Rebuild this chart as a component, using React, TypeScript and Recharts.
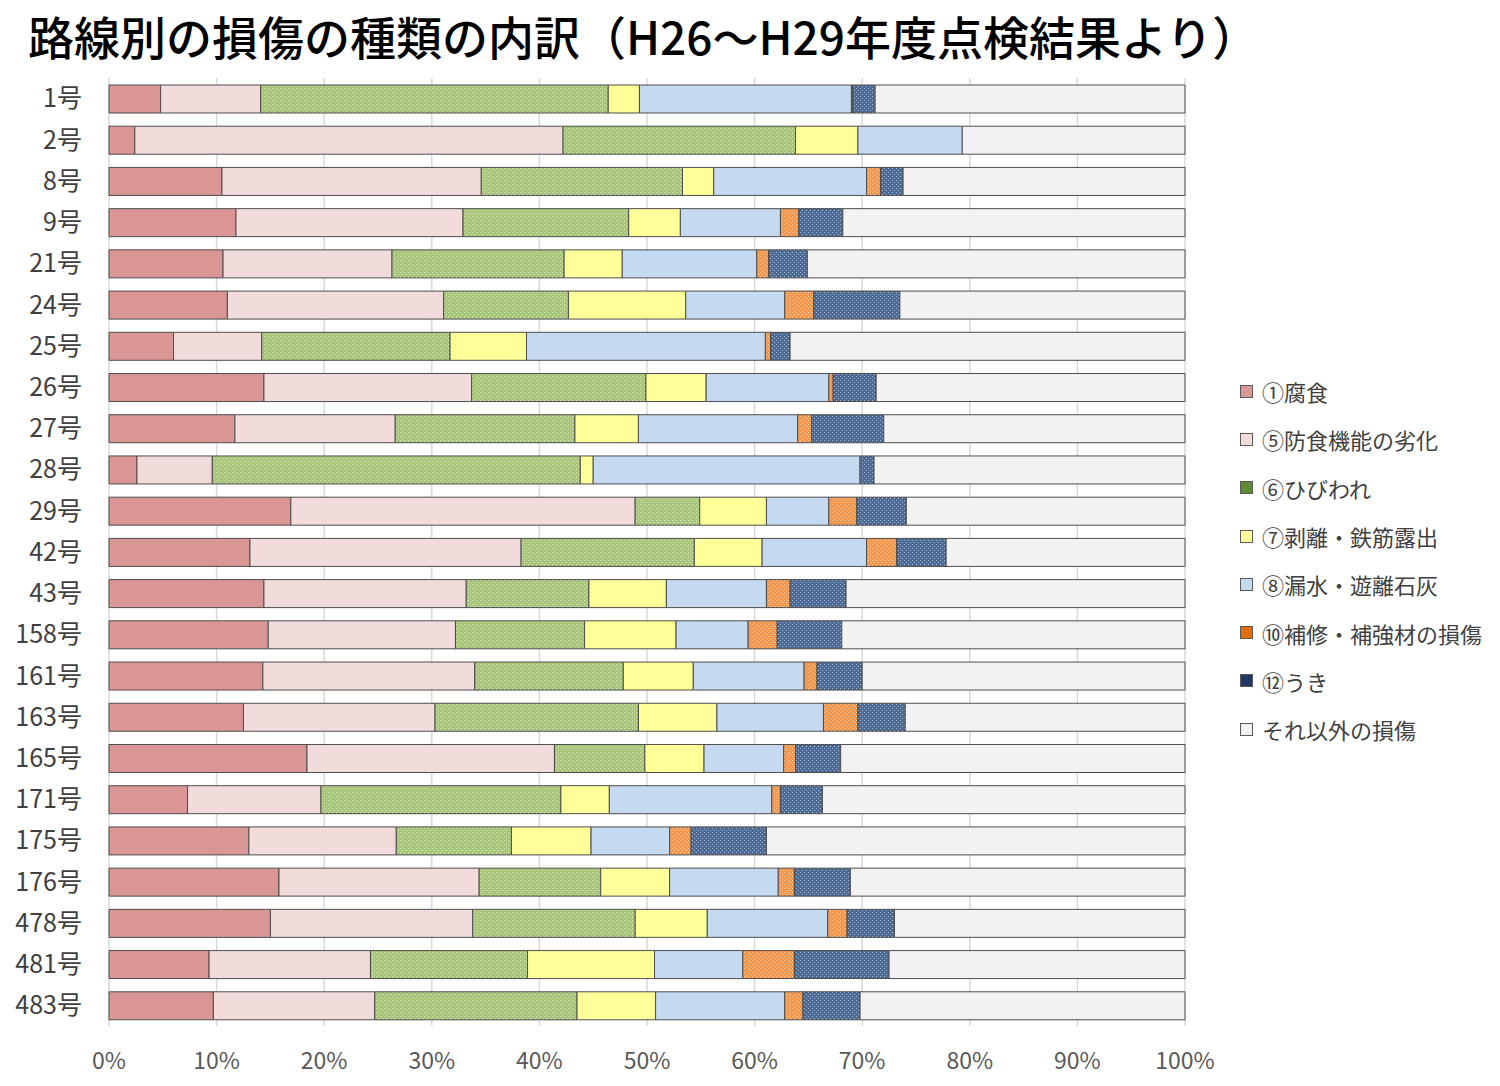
import React from 'react';
import { BarChart, Bar, XAxis, YAxis, CartesianGrid } from 'recharts';

const routes = ['1号', '2号', '8号', '9号', '21号', '24号', '25号', '26号', '27号', '28号', '29号', '42号', '43号', '158号', '161号', '163号', '165号', '171号', '175号', '176号', '478号', '481号', '483号'];

// percentages
const corrosion = [4.8, 2.4, 10.5, 11.8, 10.6, 11.0, 6.0, 14.4, 11.7, 2.6, 16.9, 13.1, 14.4, 14.8, 14.3, 12.5, 18.4, 7.3, 13.0, 15.8, 15.0, 9.3, 9.7];
const deterioration = [9.3, 39.8, 24.1, 21.1, 15.7, 20.1, 8.2, 19.3, 14.9, 7.0, 32.0, 25.2, 18.8, 17.4, 19.7, 17.8, 23.0, 12.4, 13.7, 18.6, 18.8, 15.0, 15.0];
const cracks = [32.3, 21.6, 18.7, 15.4, 16.0, 11.6, 17.5, 16.2, 16.7, 34.2, 6.0, 16.1, 11.4, 12.0, 13.8, 18.9, 8.4, 22.3, 10.7, 11.3, 15.1, 14.6, 18.8];
const peeling = [2.9, 5.8, 2.9, 4.8, 5.4, 10.9, 7.1, 5.6, 5.9, 1.2, 6.2, 6.3, 7.2, 8.5, 6.5, 7.3, 5.5, 4.5, 7.4, 6.4, 6.7, 11.8, 7.3];
const leakage = [19.7, 9.7, 14.2, 9.3, 12.5, 9.2, 22.2, 11.4, 14.8, 24.8, 5.8, 9.7, 9.3, 6.7, 10.3, 9.9, 7.4, 15.1, 7.3, 10.1, 11.2, 8.2, 12.0];
const repair = [0.1, 0, 1.3, 1.7, 1.1, 2.7, 0.5, 0.4, 1.3, 0, 2.6, 2.8, 2.2, 2.7, 1.2, 3.2, 1.1, 0.8, 2.0, 1.5, 1.8, 4.8, 1.7];
const uki = [2.1, 0, 2.1, 4.1, 3.6, 8.0, 1.8, 4.0, 6.7, 1.3, 4.6, 4.6, 5.2, 6.0, 4.2, 4.4, 4.2, 3.9, 7.0, 5.2, 4.4, 8.8, 5.3];
const others = [28.8, 20.7, 26.2, 31.8, 35.1, 26.5, 36.7, 28.7, 28.0, 28.9, 25.9, 22.2, 31.5, 31.9, 30.0, 26.0, 32.0, 33.7, 38.9, 31.1, 27.0, 27.5, 30.2];

const xTicks = [0, 0.1, 0.2, 0.3, 0.4, 0.5, 0.6, 0.7, 0.8, 0.9, 1];

const series = [
  { key: 'corrosion', name: '①腐食', fill: '#D99694', swatch: '#D99694' },
  { key: 'deterioration', name: '⑤防食機能の劣化', fill: '#F2DCDB', swatch: '#F2DCDB' },
  { key: 'cracks', name: '⑥ひびわれ', fill: 'url(#patGreen)', swatch: '#5E8A32' },
  { key: 'peeling', name: '⑦剥離・鉄筋露出', fill: '#FFFF99', swatch: '#FFFF99' },
  { key: 'leakage', name: '⑧漏水・遊離石灰', fill: '#C5D9F1', swatch: '#C5D9F1' },
  { key: 'repair', name: '⑩補修・補強材の損傷', fill: 'url(#patOrange)', swatch: '#E46C0A' },
  { key: 'uki', name: '⑫うき', fill: 'url(#patBlue)', swatch: '#1F3864' },
  { key: 'others', name: 'それ以外の損傷', fill: '#F2F2F2', swatch: '#F2F2F2' },
];

const data = routes.map((route, i) => ({
  route,
  corrosion: corrosion[i],
  deterioration: deterioration[i],
  cracks: cracks[i],
  peeling: peeling[i],
  leakage: leakage[i],
  repair: repair[i],
  uki: uki[i],
  others: others[i],
}));

const FONT = '"Noto Sans CJK JP", "Noto Sans", sans-serif';

const dotPattern = (id: string, base: string, dot: string) => (
  <pattern id={id} width="4" height="4" patternUnits="userSpaceOnUse">
    <rect width="4" height="4" fill={base} />
    <rect x="0" y="0" width="1" height="1" fill={dot} />
    <rect x="2" y="2" width="1" height="1" fill={dot} />
  </pattern>
);

export default function App() {
  return (
    <div style={{ position: 'relative', width: 1500, height: 1086, background: '#fff', fontFamily: FONT }}>
      <style>{`body{margin:0}`}</style>
      <div
        style={{
          position: 'absolute',
          left: 28,
          top: 2,
          fontSize: 46,
          fontWeight: 500,
          color: '#000',
          whiteSpace: 'nowrap',
        }}
      >
        路線別の損傷の種類の内訳（H26～H29年度点検結果より）
      </div>

      <div style={{ position: 'absolute', left: 0, top: 0 }}>
        <BarChart
          width={1230}
          height={1086}
          data={data}
          layout="vertical"
          stackOffset="expand"
          margin={{ top: 78, right: 45, bottom: 0, left: 0 }}
        >
          <defs>
            {dotPattern('patGreen', '#A6C673', '#E0EDCC')}
            {dotPattern('patOrange', '#F79646', '#FCD3AE')}
            {dotPattern('patBlue', '#4B6A95', '#A9BBD4')}
          </defs>
          <CartesianGrid horizontal={false} stroke="#D9D9D9" strokeWidth={1.5} />
          <XAxis
            type="number"
            domain={[0, 1]}
            ticks={xTicks}
            tickFormatter={(v: number) => `${Math.round(v * 100)}%`}
            axisLine={false}
            tickLine={false}
            tickSize={0}
            tickMargin={27}
            height={60}
            tick={{ fontSize: 23, fill: '#595959', fontFamily: FONT }}
          />
          <YAxis
            type="category"
            dataKey="route"
            width={109}
            axisLine={false}
            tickLine={false}
            tickSize={0}
            tickMargin={27}
            tick={{ fontSize: 25, fill: '#404040', fontFamily: FONT }}
          />
          {series.map((s) => (
            <Bar
              key={s.key}
              dataKey={s.key}
              name={s.name}
              stackId="a"
              barSize={28}
              fill={s.fill}
              stroke="#4D4D4D"
              strokeWidth={1}
              isAnimationActive={false}
            />
          ))}
        </BarChart>
      </div>

      <div style={{ position: 'absolute', left: 1240, top: 367 }}>
        {series.map((s) => (
          <div key={s.key} style={{ display: 'flex', alignItems: 'center', height: 48.3 }}>
            <span
              style={{
                display: 'inline-block',
                width: 11,
                height: 11,
                background: s.swatch,
                border: '1px solid #595959',
                marginRight: 9,
              }}
            />
            <span style={{ fontSize: 22, color: '#404040', whiteSpace: 'nowrap' }}>{s.name}</span>
          </div>
        ))}
      </div>
    </div>
  );
}
